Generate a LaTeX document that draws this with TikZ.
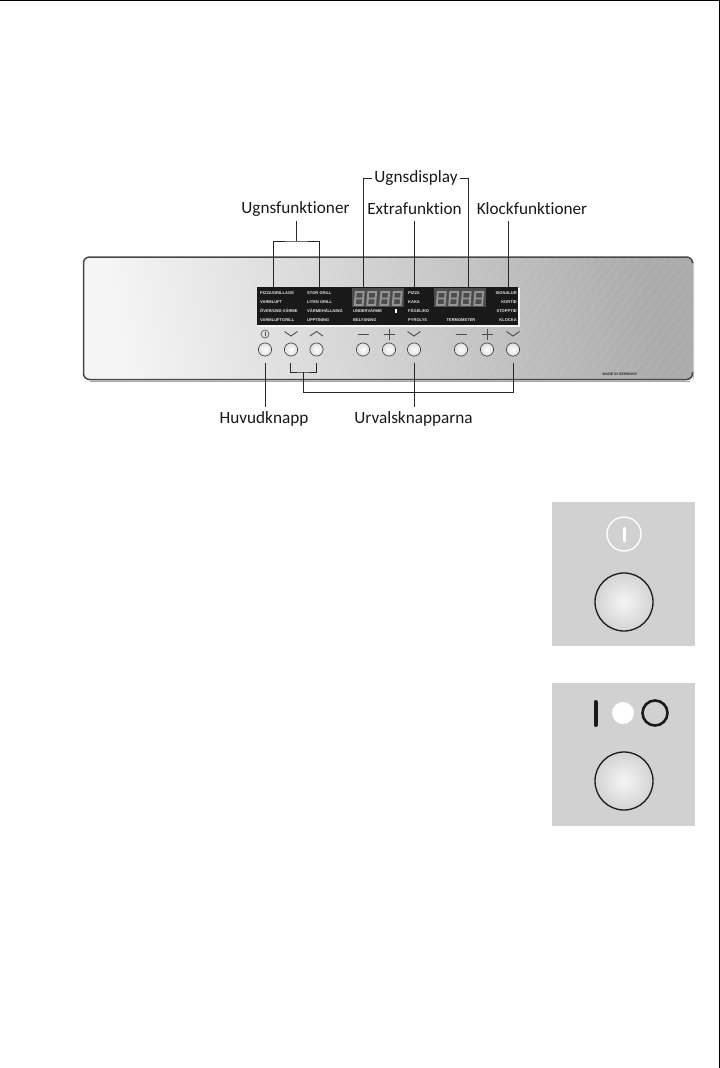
\documentclass[tikz,border=0pt]{standalone}
\usepackage{fontspec}
\setmainfont[Ligatures=NoCommon]{Carlito}
\newfontfamily\tinyfont{Liberation Sans}
\begin{document}
\begin{tikzpicture}[x=1pt,y=-1pt,
  lbl/.style={font=\fontsize{17.2}{20}\selectfont,text=black!90,inner sep=0pt,anchor=center},
  lead/.style={draw=black!85,line width=0.9pt},
  ptxt/.style={font=\tinyfont\bfseries\fontsize{4.05}{5}\selectfont,text=white!90!black,inner sep=0pt},
  keycap/.style={circle,minimum size=13.2pt,inner sep=0pt,draw=black!80,line width=0.6pt,inner color=white,outer color=black!13},
  bigkey/.style={circle,minimum size=58pt,inner sep=0pt,draw=black!90,line width=1.3pt,inner color=white!96!black,outer color=black!17},
  sym/.style={draw=black!70,line width=0.9pt,line cap=round},
  seg/.style={draw=black!42,line width=1.9pt},
  pic8/.pic={\draw[seg] (-4.2,6.5)--(-3.2,-6.5)--(4.6,-6.5)--(3.6,6.5)--cycle (-3.7,0)--(4.1,0);}
]
\useasboundingbox (0,0) rectangle (720,1068);
\fill[white] (0,0) rectangle (720,1068);
\draw[black,line width=1.2pt] (0,0.5) -- (719.4,0.5) -- (719.4,1068);
% panel
\shade[rounded corners=6pt,left color=white!96!black,right color=black!33,shading angle=100] (83,257) rectangle (693,380);
\begin{scope}
 \clip[rounded corners=6pt] (83,257) rectangle (693,380);
 \foreach \i in {0,9,...,780}{\draw[white,opacity=0.16,line width=0.4pt] (\i,390) -- (\i+105,250);}
\end{scope}
\draw[draw=black!22,line width=1.2pt,rounded corners=6pt] (690,258) -- (693.5,258) -- (693.5,379);
\draw[draw=black!72,line width=1.5pt,rounded corners=6pt] (692.5,262) -- (692.5,257) -- (83.5,257) -- (83.5,379.5) -- (692.5,379.5) -- (692.5,372);
\draw[draw=black!35,line width=0.8pt] (90,381) -- (690,381);
\node[font=\tinyfont\bfseries\fontsize{3.6}{4}\selectfont,text=black!85,inner sep=0pt] (made) at (620,374) {MADE IN GERMANY};
% display block
\fill[white!96!black] (258,288) rectangle (520,326.5);
\fill[black!90] (257,287) rectangle (518,325);
\fill[black!70] (352,288) rectangle (404,307);
\fill[black!70] (434,288) rectangle (486,307);
\foreach \x in {359,371.5,384.5,397}{\pic at (\x,298.5) {pic8};}
\foreach \x in {441,453.5,466,478.5}{\pic at (\x,298.5) {pic8};}
\node[ptxt,anchor=west] (t1) at (260,293) {PIZZA/GRILLAGE};
\node[ptxt,anchor=west] (t2) at (260,302) {VARMLUFT};
\node[ptxt,anchor=west] (t3) at (260,311) {ÖVER/UND-VÄRME};
\node[ptxt,anchor=west] (t4) at (260,320.5) {VARMLUFTGRILL};
\node[ptxt,anchor=west] (t5) at (307,293) {STOR GRILL};
\node[ptxt,anchor=west] (t6) at (307,302) {LITEN GRILL};
\node[ptxt,anchor=west] (t7) at (307,311) {VÄRMEHÅLLNING};
\node[ptxt,anchor=west] (t8) at (307,320.5) {UPPTINING};
\node[ptxt,anchor=west] (t9) at (353,311) {UNDERVÄRME};
\node[ptxt,anchor=west] (t10) at (353,320.5) {BELYSNING};
\fill[white] (394.5,309) rectangle (397,313);
\node[ptxt,anchor=west] (t11) at (408,293) {PIZZA};
\node[ptxt,anchor=west] (t12) at (408,302) {KAKA};
\node[ptxt,anchor=west] (t13) at (408,311) {FÅGEL/KO};
\node[ptxt,anchor=west] (t14) at (408,320.5) {PYROLYS};
\node[ptxt] (t15) at (461,320.5) {TERMOMETER};
\node[ptxt,anchor=east] (t16) at (517,293) {SIGNALUR};
\node[ptxt,anchor=east] (t17) at (517,302) {KORTID};
\node[ptxt,anchor=east] (t18) at (517,311) {STOPPTID};
\node[ptxt,anchor=east] (t19) at (517,320.5) {KLOCKA};
% keys
\foreach \n/\x in {k1/265,k2/291,k3/316.5,k4/363,k5/389,k6/414,k7/461,k8/487,k9/513}{\node[keycap] (\n) at (\x,349.5) {};}
% key symbols
\draw[sym,line width=0.6pt] (265,334) circle (4);
\draw[sym,line width=0.6pt] (265,332)--(265,336);
\foreach \x in {291,414,513}{\draw[sym,line cap=butt] (\x-6.5,331.5)--(\x,336)--(\x+6.5,331.5);}
\draw[sym,line cap=butt] (310,336)--(316.5,331.5)--(323,336);
\foreach \x in {363,461}{\draw[sym,line cap=butt] (\x-5.5,334)--(\x+5.5,334);}
\foreach \x in {389,487}{\draw[sym,line cap=butt] (\x-5.5,334)--(\x+5.5,334) (\x,328.5)--(\x,339.5);}
% labels
\node[lbl] (ugnsf) at (295.5,209) {Ugnsfunktioner};
\node[lbl] (display) at (416,178) {Ugnsdisplay};
\node[lbl] (extra) at (414.5,209) {Extrafunktion};
\node[lbl] (klock) at (532,209) {Klockfunktioner};
\node[lbl] (huvud) at (264,418.5) {Huvudknapp};
\node[lbl] (urval) at (413.5,418.5) {Urvalsknapparna};
% connectors
\coordinate (uj) at (296,241);
\coordinate (ua) at (273,287); \coordinate (ub) at (319,287);
\draw[lead] (296,221) -- (uj);
\draw[lead] (ua) |- (uj) -| (ub);
\coordinate (da) at (363,287); \coordinate (db) at (468,287);
\draw[lead] (display.west) ++(-2,0) -- (display.west -| da) -- (da);
\draw[lead] (display.east) ++(2,0) -- (display.east -| db) -- (db);
\coordinate (ea) at (414,287); \coordinate (ka) at (508,287);
\draw[lead] (414,221) -- (ea);
\draw[lead] (508,221) -- (ka);
\coordinate (ht) at (265,363); \coordinate (hb) at (265,407);
\draw[lead] (ht) -- (hb);
\coordinate (b1) at (290,363); \coordinate (b2) at (316.5,363); \coordinate (bj) at (303,372);
\draw[lead] (b1) |- (bj) -| (b2);
\coordinate (r1) at (303,392); \coordinate (r2) at (513,363);
\draw[lead] (bj) -- (r1) -| (r2);
\coordinate (m1) at (414,363); \coordinate (m2) at (414,407);
\draw[lead] (m1) -- (m2);
% detail boxes
\fill[black!18] (552,502) rectangle (695,646);
\draw[white,line width=1.3pt] (624,534) circle (17);
\draw[white,line width=3pt,line cap=round] (624,528) -- (624,541);
\node[bigkey] (big1) at (624,602) {};
\fill[black!18] (552,683) rectangle (695,826);
\draw[black!90,line width=4pt,line cap=round] (595.5,702) -- (595.5,725);
\fill[white] (623,713) circle (11);
\draw[black!90,line width=2.6pt] (655,713) circle (12.5);
\node[bigkey] (big2) at (624,781) {};
\end{tikzpicture}
\end{document}
